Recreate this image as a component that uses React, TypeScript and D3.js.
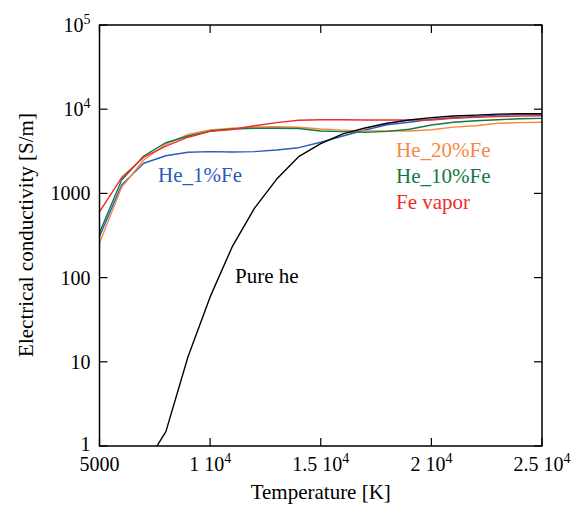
import React from 'react';
import * as d3 from 'd3';

// temperatures [K]
const temps = [5000, 6000, 7000, 8000, 9000, 10000, 11000, 12000, 13000, 14000, 15000,
  16000, 17000, 18000, 19000, 20000, 21000, 22000, 23000, 24000, 25000];

// electrical conductivity [S/m]
const feVapor = [605, 1540, 2690, 3650, 4650, 5450, 5750, 6370, 6920, 7380, 7500,
  7500, 7450, 7450, 7450, 7450, 7800, 8000, 8200, 8300, 8370];
const he10Fe = [339, 1440, 2780, 4000, 4800, 5500, 5820, 5930, 5930, 5900, 5510,
  5410, 5310, 5460, 5770, 6490, 6990, 7300, 7500, 7710, 7780];
const he20Fe = [257, 1180, 2490, 3830, 5030, 5660, 5930, 6150, 6200, 6100, 5820,
  5650, 5510, 5510, 5510, 5700, 6130, 6370, 6800, 6920, 7000];
const he1Fe = [307, 1260, 2280, 2800, 3080, 3130, 3100, 3130, 3280, 3490, 4050,
  4800, 5660, 6540, 7010, 7600, 7900, 8200, 8500, 8650, 8700];
// pure helium starts at 7000 K (below 1 S/m is clipped)
const pureHeTemps = temps.slice(2);
const pureHe = [0.56, 1.48, 11.5, 59, 233, 665, 1470, 2730, 3900, 5100, 5980,
  6800, 7440, 7940, 8300, 8500, 8750, 8850, 8850];

const xTicks = [5000, 10000, 15000, 20000, 25000];
const xTickLabels = [['5000', ''], ['1 10', '4'], ['1.5 10', '4'], ['2 10', '4'], ['2.5 10', '4']];
const yTicks = [1, 10, 100, 1000, 10000, 100000];
const yTickLabels = [['1', ''], ['10', ''], ['100', ''], ['1000', ''], ['10', '4'], ['10', '5']];

const series = [
  { name: 'He_1%Fe', t: temps, v: he1Fe, color: '#2b5cb8', lx: 158, ly: 182 },
  { name: 'He_20%Fe', t: temps, v: he20Fe, color: '#f7883f', lx: 396, ly: 157 },
  { name: 'He_10%Fe', t: temps, v: he10Fe, color: '#0e7a45', lx: 396, ly: 183 },
  { name: 'Fe vapor', t: temps, v: feVapor, color: '#ee2c2c', lx: 396, ly: 209 },
  { name: 'Pure he', t: pureHeTemps, v: pureHe, color: '#000000', lx: 235, ly: 283 },
];

const W = 574, H = 507;
const margin = { top: 25, right: 32, bottom: 61, left: 99.5 };
const fontStyle = { fontFamily: "'Liberation Serif'" };

const x = d3.scaleLinear().domain([5000, 25000]).range([margin.left, W - margin.right]);
const y = d3.scaleLog().domain([1, 100000]).range([H - margin.bottom, margin.top]);
const [x0, x1] = x.range();
const [y0, y1] = y.range();
const line = d3.line<[number, number]>().x(d => x(d[0])).y(d => y(d[1]));
const tick = 8;

const App = () => (
  <svg width={W} height={H} style={{ position: 'absolute', left: 0, top: 0, background: '#fff' }}>
    <defs>
      <clipPath id="plot-clip">
        <rect x={x0} y={y1} width={x1 - x0} height={y0 - y1} />
      </clipPath>
    </defs>

    <g clipPath="url(#plot-clip)">
      {series.map(s => (
        <path key={s.name}
          d={line(s.t.map((t, i) => [t, s.v[i]] as [number, number])) || ''}
          fill="none" stroke={s.color} strokeWidth={1.4} strokeLinejoin="round" />
      ))}
    </g>

    <rect x={x0} y={y1} width={x1 - x0} height={y0 - y1} fill="none" stroke="#000" strokeWidth={1.5} />

    {xTicks.map((t, i) => (
      <g key={t}>
        <line x1={x(t)} x2={x(t)} y1={y0} y2={y0 - tick} stroke="#000" strokeWidth={1.2} />
        <line x1={x(t)} x2={x(t)} y1={y1} y2={y1 + tick} stroke="#000" strokeWidth={1.2} />
        <text x={x(t)} y={y0 + 25} textAnchor="middle" fontSize={20} style={fontStyle}>
          {xTickLabels[i][0]}
          {xTickLabels[i][1] && <tspan fontSize={14} dy={-8}>{xTickLabels[i][1]}</tspan>}
        </text>
      </g>
    ))}

    {yTicks.map((t, i) => (
      <g key={t}>
        <line x1={x0} x2={x0 + tick} y1={y(t)} y2={y(t)} stroke="#000" strokeWidth={1.2} />
        <line x1={x1} x2={x1 - tick} y1={y(t)} y2={y(t)} stroke="#000" strokeWidth={1.2} />
        <text x={x0 - 9} y={y(t) + (i === 0 ? 5 : 7)} textAnchor="end" fontSize={20} style={fontStyle}>
          {yTickLabels[i][0]}
          {yTickLabels[i][1] && <tspan fontSize={14} dy={-8}>{yTickLabels[i][1]}</tspan>}
        </text>
      </g>
    ))}

    <text x={(x0 + x1) / 2} y={499} textAnchor="middle" fontSize={21} style={fontStyle}>
      Temperature [K]
    </text>
    <text transform="translate(33,235) rotate(-90)" textAnchor="middle" fontSize={21} style={fontStyle}>
      Electrical conductivity [S/m]
    </text>

    {series.map(s => (
      <text key={s.name} x={s.lx} y={s.ly} fontSize={21} fill={s.color} style={fontStyle}>
        {s.name}
      </text>
    ))}
  </svg>
);

export default App;
